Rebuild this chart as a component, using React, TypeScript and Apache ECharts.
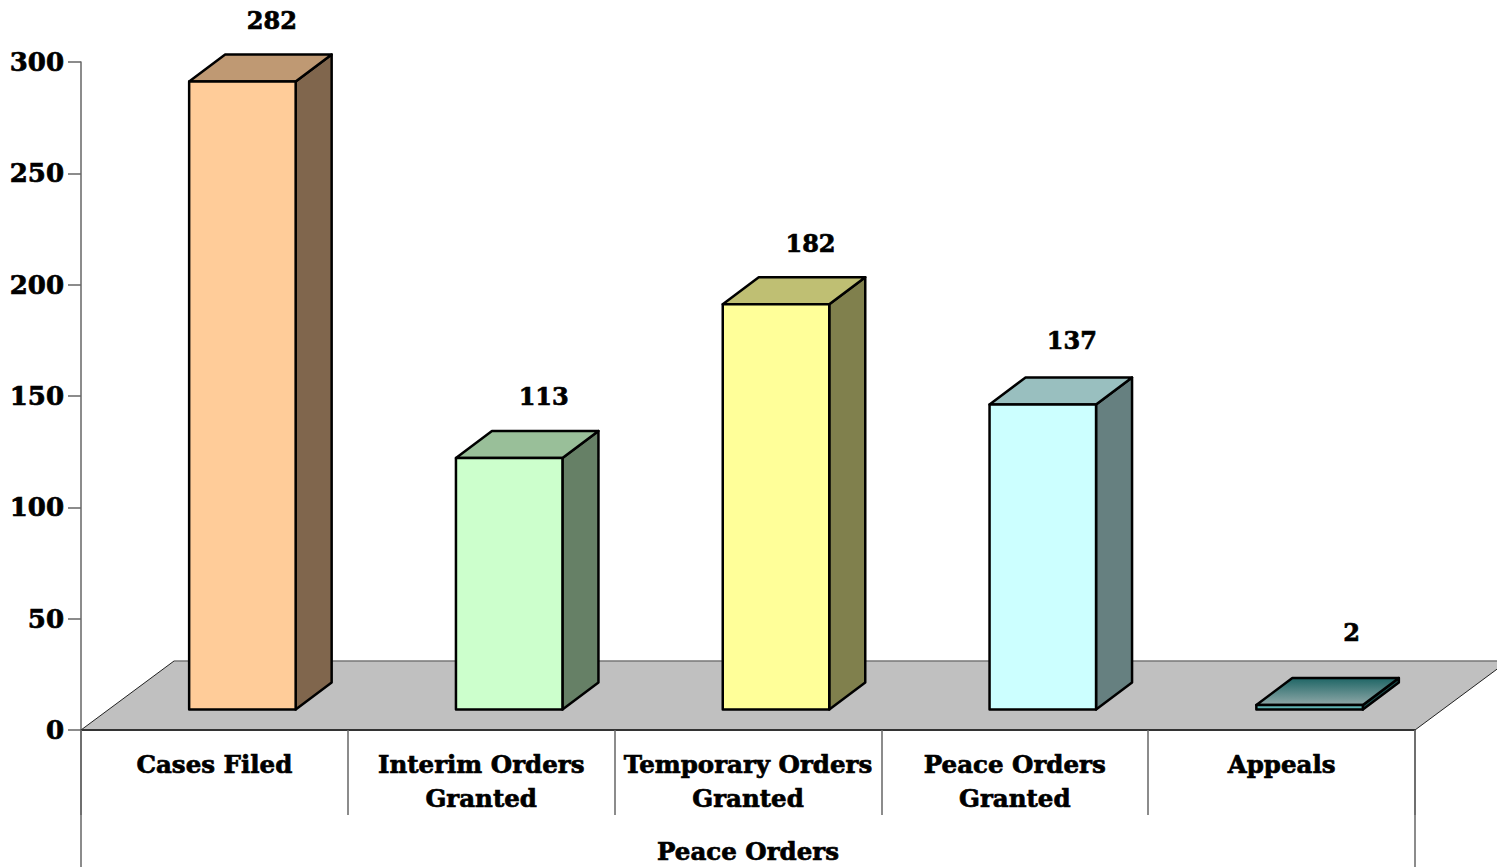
import React, { useEffect, useRef } from "react";
import * as echarts from "echarts";

const categories = ["Cases Filed", "Interim Orders\nGranted", "Temporary Orders\nGranted", "Peace Orders\nGranted", "Appeals"];
const values = [282, 113, 182, 137, 2];
const yTicks = { min: 0, max: 300, interval: 50 };
const groupLabel = ["Peace Orders"];
const frontColors = ["#FFCC99", "#CCFFCC", "#FFFF99", "#CCFFFF", "#5FB3B3"];
const sideColors = ["#80664D", "#668066", "#80804D", "#668080", "#1C4F4F"];
const topColors = ["#BF9973", "#99BF99", "#BFBF73", "#99BFBF", "#1F6666"];
const labelNudge = [29.5, 34.5, 34.5, 29, 42];
const labelLift = [61.5, 61.5, 61, 64, 73];

const FONT_FAMILY = '"DejaVu Serif"';
const AXIS_SIZE = 24.5;
const VALUE_SIZE = 26;
const LABEL_SIZE = 24;
const HEAVY = { textBorderColor: "#000", textBorderWidth: 0.7 };
const DEPTH_X = 36;
const DEPTH_Y = 27;
const BAR_W = 106.5;
const BAR_SHIFT = 28;
const BASE_LIFT = 20.5;

export default function App() {
  const ref = useRef<HTMLDivElement>(null);
  useEffect(() => {
    const chart = echarts.init(ref.current!, undefined, { renderer: "svg" });
    const axisGray = "#666";
    chart.setOption({
      animation: false,
      backgroundColor: "#fff",
      grid: { left: 81, top: 62, width: 1334, height: 668 },
      xAxis: [
        {
          type: "category",
          data: categories,
          position: "bottom",
          z: 5,
          axisLine: { lineStyle: { color: "#333", width: 2 } },
          axisTick: { show: true, alignWithLabel: false, length: 85, lineStyle: { color: axisGray, width: 1.5 } },
          axisLabel: { interval: 0, margin: 17, lineHeight: 34, color: "#000", fontFamily: FONT_FAMILY, fontWeight: "bold", fontSize: AXIS_SIZE, ...HEAVY },
        },
        {
          type: "category",
          data: groupLabel,
          position: "bottom",
          z: 5,
          axisLine: { show: false },
          axisTick: { show: true, alignWithLabel: false, length: 137, lineStyle: { color: axisGray, width: 1.5 } },
          axisLabel: { margin: 109, color: "#000", fontFamily: FONT_FAMILY, fontWeight: "bold", fontSize: AXIS_SIZE, ...HEAVY },
        },
      ],
      yAxis: {
        type: "value",
        ...yTicks,
        z: 5,
        splitLine: { show: false },
        axisLine: { show: true, lineStyle: { color: axisGray, width: 1.5 } },
        axisTick: { show: true, length: 13, lineStyle: { color: axisGray, width: 1.5 } },
        axisLabel: { margin: 17, color: "#000", fontFamily: FONT_FAMILY, fontWeight: "bold", fontSize: VALUE_SIZE, ...HEAVY },
      },
      series: [
        {
          type: "custom",
          z: 1,
          xAxisIndex: 0,
          silent: true,
          data: [[0, 0]],
          renderItem: (params: any, api: any) => {
            const c = params.coordSys;
            const b = c.y + c.height;
            const t = b - 69;
            const l = c.x;
            const r = c.x + c.width;
            return {
              type: "group",
              children: [
                { type: "polygon", shape: { points: [[l, b], [l + 93, t], [r + 93, t], [r, b]] }, style: { fill: "#C0C0C0" } },
                { type: "polyline", shape: { points: [[l + 93, t], [r + 93, t]] }, style: { stroke: "#777", lineWidth: 1.5, fill: "none" } },
                { type: "polyline", shape: { points: [[l, b], [l + 93, t]] }, style: { stroke: "#222", lineWidth: 1, fill: "none" } },
                { type: "polyline", shape: { points: [[r, b], [r + 93, t]] }, style: { stroke: "#222", lineWidth: 1, fill: "none" } },
              ],
            };
          },
        },
        {
          type: "custom",
          z: 2,
          xAxisIndex: 0,
          silent: true,
          data: values.map((v, i) => [i, v]),
          renderItem: (params: any, api: any) => {
            const i = api.value(0);
            const v = api.value(1);
            const p0 = api.coord([i, 0]);
            const p1 = api.coord([i, v]);
            const cx = p0[0] + BAR_SHIFT;
            const x0 = cx - BAR_W / 2;
            const x1 = cx + BAR_W / 2;
            const yb = p0[1] - BASE_LIFT;
            const yt = p1[1] - BASE_LIFT;
            const edge = { stroke: "#000", lineWidth: 2.5, lineJoin: "round" };
            const topFill =
              i === 4
                ? new echarts.graphic.LinearGradient(0, 0, 0, 1, [
                    { offset: 0, color: "#1F6666" },
                    { offset: 1, color: "#8FA8A8" },
                  ])
                : topColors[i];
            return {
              type: "group",
              children: [
                { type: "polygon", shape: { points: [[x1, yb], [x1 + DEPTH_X, yb - DEPTH_Y], [x1 + DEPTH_X, yt - DEPTH_Y], [x1, yt]] }, style: { fill: sideColors[i], ...edge } },
                { type: "polygon", shape: { points: [[x0, yt], [x0 + DEPTH_X, yt - DEPTH_Y], [x1 + DEPTH_X, yt - DEPTH_Y], [x1, yt]] }, style: { fill: topFill, ...edge } },
                { type: "rect", shape: { x: x0, y: yt, width: BAR_W, height: yb - yt }, style: { fill: frontColors[i], ...edge } },
                {
                  type: "text",
                  style: {
                    text: String(v),
                    x: cx + labelNudge[i],
                    y: yt - labelLift[i],
                    fill: "#000",
                    stroke: "#000",
                    lineWidth: 0.7,
                    fontFamily: FONT_FAMILY,
                    fontWeight: "bold",
                    fontSize: LABEL_SIZE,
                    align: "center",
                    verticalAlign: "middle",
                  },
                },
              ],
            };
          },
        },
      ],
    });
    return () => chart.dispose();
  }, []);
  return <div ref={ref} style={{ position: "fixed", left: 0, top: 0, width: 1497, height: 867 }} />;
}
